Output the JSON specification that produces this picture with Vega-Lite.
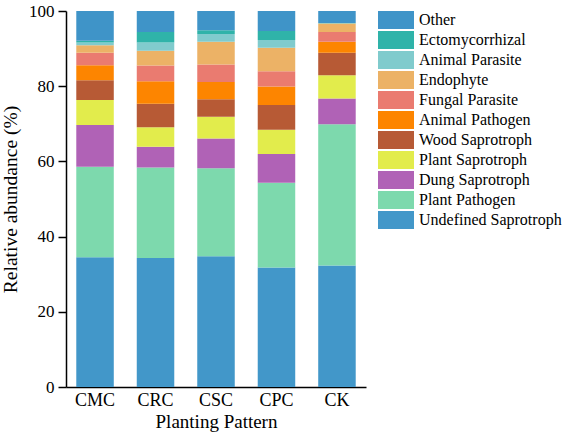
{
  "$schema": "https://vega.github.io/schema/vega-lite/v6.json",
  "autosize": {"type": "none"},
  "padding": {"left": 66, "top": 11, "right": 201, "bottom": 52},
  "width": 300,
  "height": 376,
  "config": {
    "view": {"stroke": null},
    "font": "Liberation Serif",
    "axis": {
      "domainColor": "#000000",
      "domainWidth": 1.5,
      "tickColor": "#000000",
      "tickWidth": 1.5,
      "labelColor": "#000000",
      "titleColor": "#000000",
      "labelFont": "Liberation Serif",
      "titleFont": "Liberation Serif",
      "titleFontWeight": "normal",
      "grid": false
    },
    "legend": {
      "labelFont": "Liberation Serif",
      "labelColor": "#000000"
    }
  },
  "data": {
    "values": [
      {"pattern": "CMC", "guild": "Undefined Saprotroph", "value": 34.5},
      {"pattern": "CMC", "guild": "Plant Pathogen", "value": 24.1},
      {"pattern": "CMC", "guild": "Dung Saprotroph", "value": 11.1},
      {"pattern": "CMC", "guild": "Plant Saprotroph", "value": 6.6},
      {"pattern": "CMC", "guild": "Wood Saprotroph", "value": 5.3},
      {"pattern": "CMC", "guild": "Animal Pathogen", "value": 4.0},
      {"pattern": "CMC", "guild": "Fungal Parasite", "value": 3.3},
      {"pattern": "CMC", "guild": "Endophyte", "value": 2.0},
      {"pattern": "CMC", "guild": "Animal Parasite", "value": 0.7},
      {"pattern": "CMC", "guild": "Ectomycorrhizal", "value": 0.5},
      {"pattern": "CMC", "guild": "Other", "value": 7.9},

      {"pattern": "CRC", "guild": "Undefined Saprotroph", "value": 34.3},
      {"pattern": "CRC", "guild": "Plant Pathogen", "value": 24.1},
      {"pattern": "CRC", "guild": "Dung Saprotroph", "value": 5.5},
      {"pattern": "CRC", "guild": "Plant Saprotroph", "value": 5.2},
      {"pattern": "CRC", "guild": "Wood Saprotroph", "value": 6.2},
      {"pattern": "CRC", "guild": "Animal Pathogen", "value": 6.0},
      {"pattern": "CRC", "guild": "Fungal Parasite", "value": 4.2},
      {"pattern": "CRC", "guild": "Endophyte", "value": 3.9},
      {"pattern": "CRC", "guild": "Animal Parasite", "value": 2.2},
      {"pattern": "CRC", "guild": "Ectomycorrhizal", "value": 2.8},
      {"pattern": "CRC", "guild": "Other", "value": 5.6},

      {"pattern": "CSC", "guild": "Undefined Saprotroph", "value": 34.8},
      {"pattern": "CSC", "guild": "Plant Pathogen", "value": 23.4},
      {"pattern": "CSC", "guild": "Dung Saprotroph", "value": 7.9},
      {"pattern": "CSC", "guild": "Plant Saprotroph", "value": 5.8},
      {"pattern": "CSC", "guild": "Wood Saprotroph", "value": 4.6},
      {"pattern": "CSC", "guild": "Animal Pathogen", "value": 4.6},
      {"pattern": "CSC", "guild": "Fungal Parasite", "value": 4.7},
      {"pattern": "CSC", "guild": "Endophyte", "value": 6.0},
      {"pattern": "CSC", "guild": "Animal Parasite", "value": 2.1},
      {"pattern": "CSC", "guild": "Ectomycorrhizal", "value": 1.0},
      {"pattern": "CSC", "guild": "Other", "value": 5.1},

      {"pattern": "CPC", "guild": "Undefined Saprotroph", "value": 31.8},
      {"pattern": "CPC", "guild": "Plant Pathogen", "value": 22.5},
      {"pattern": "CPC", "guild": "Dung Saprotroph", "value": 7.7},
      {"pattern": "CPC", "guild": "Plant Saprotroph", "value": 6.4},
      {"pattern": "CPC", "guild": "Wood Saprotroph", "value": 6.6},
      {"pattern": "CPC", "guild": "Animal Pathogen", "value": 4.9},
      {"pattern": "CPC", "guild": "Fungal Parasite", "value": 4.1},
      {"pattern": "CPC", "guild": "Endophyte", "value": 6.2},
      {"pattern": "CPC", "guild": "Animal Parasite", "value": 2.1},
      {"pattern": "CPC", "guild": "Ectomycorrhizal", "value": 2.4},
      {"pattern": "CPC", "guild": "Other", "value": 5.3},

      {"pattern": "CK", "guild": "Undefined Saprotroph", "value": 32.3},
      {"pattern": "CK", "guild": "Plant Pathogen", "value": 37.6},
      {"pattern": "CK", "guild": "Dung Saprotroph", "value": 6.8},
      {"pattern": "CK", "guild": "Plant Saprotroph", "value": 6.2},
      {"pattern": "CK", "guild": "Wood Saprotroph", "value": 6.0},
      {"pattern": "CK", "guild": "Animal Pathogen", "value": 2.9},
      {"pattern": "CK", "guild": "Fungal Parasite", "value": 2.6},
      {"pattern": "CK", "guild": "Endophyte", "value": 2.3},
      {"pattern": "CK", "guild": "Animal Parasite", "value": 0.05},
      {"pattern": "CK", "guild": "Ectomycorrhizal", "value": 0.05},
      {"pattern": "CK", "guild": "Other", "value": 3.2}
    ]
  },
  "transform": [
    {
      "calculate": "indexof(['Undefined Saprotroph','Plant Pathogen','Dung Saprotroph','Plant Saprotroph','Wood Saprotroph','Animal Pathogen','Fungal Parasite','Endophyte','Animal Parasite','Ectomycorrhizal','Other'], datum.guild)",
      "as": "stackRank"
    }
  ],
  "mark": {"type": "bar"},
  "encoding": {
    "x": {
      "field": "pattern",
      "type": "nominal",
      "sort": ["CMC", "CRC", "CSC", "CPC", "CK"],
      "scale": {"paddingInner": 0.38, "paddingOuter": 0.17},
      "axis": {
        "title": "Planting Pattern",
        "labelAngle": 0,
        "ticks": false,
        "labelPadding": 4,
        "labelFontSize": 18,
        "titleFontSize": 19,
        "titlePadding": 3
      }
    },
    "y": {
      "field": "value",
      "type": "quantitative",
      "stack": "zero",
      "scale": {"domain": [0, 100], "nice": false},
      "axis": {
        "title": "Relative abundance (%)",
        "values": [0, 20, 40, 60, 80, 100],
        "tickSize": 8,
        "labelPadding": 4,
        "labelFontSize": 17,
        "titleFontSize": 19.5,
        "titlePadding": 8
      }
    },
    "order": {"field": "stackRank", "type": "quantitative", "sort": "ascending"},
    "color": {
      "field": "guild",
      "type": "nominal",
      "scale": {
        "domain": ["Other", "Ectomycorrhizal", "Animal Parasite", "Endophyte", "Fungal Parasite", "Animal Pathogen", "Wood Saprotroph", "Plant Saprotroph", "Dung Saprotroph", "Plant Pathogen", "Undefined Saprotroph"],
        "range": ["#3f94c8", "#2fb3a9", "#80cbcd", "#ecb266", "#ea7b70", "#fd8500", "#b75a35", "#e2ec4c", "#b062b6", "#7dd9ad", "#4297c9"]
      },
      "legend": {
        "title": null,
        "orient": "right",
        "offset": 21,
        "symbolType": "M-2,-1H2V1H-2Z",
        "symbolSize": 324,
        "symbolStrokeWidth": 0,
        "symbolOpacity": 1,
        "labelFont": "Liberation Serif",
        "labelColor": "#000000",
        "labelFontSize": 16,
        "labelOffset": 14,
        "rowPadding": 2,
        "padding": 0,
        "labelLimit": 200
      }
    }
  }
}
